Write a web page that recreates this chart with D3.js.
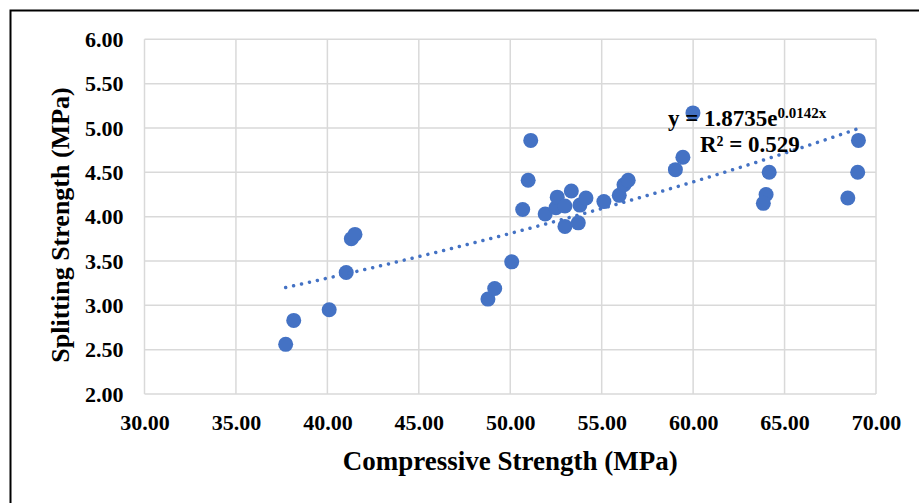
<!DOCTYPE html>
<html>
<head>
<meta charset="utf-8">
<script src="https://cdn.jsdelivr.net/npm/d3@7"></script>
<style>
  html, body { margin: 0; padding: 0; background: #fff; }
  text { font-family: "Liberation Serif", "Times New Roman", serif; font-weight: bold; }
</style>
</head>
<body>
<svg id="chart" width="919" height="503"></svg>
<script>
// compressive strength (MPa) of each specimen
var compressive = [37.72, 38.16, 40.10, 41.03, 41.31, 41.51, 48.78, 49.15, 50.08, 50.68,
    50.98, 51.12, 51.91, 52.50, 52.57, 52.99, 53.34, 52.99, 53.72, 53.81,
    54.14, 55.12, 55.96, 56.22, 56.45, 59.03, 59.44, 59.99, 64.16, 63.99,
    63.84, 69.04, 69.00, 68.46];
// splitting tensile strength (MPa), same order
var splitting = [2.56, 2.83, 2.95, 3.37, 3.75, 3.80, 3.07, 3.19, 3.49, 4.08,
    4.41, 4.86, 4.03, 4.10, 4.22, 4.12, 4.29, 3.89, 3.93, 4.13,
    4.21, 4.17, 4.24, 4.36, 4.41, 4.53, 4.67, 5.17, 4.50, 4.25,
    4.15, 4.86, 4.50, 4.21];

var xTicks = [30, 35, 40, 45, 50, 55, 60, 65, 70];
var yTicks = [2, 2.5, 3, 3.5, 4, 4.5, 5, 5.5, 6];

// exponential trendline y = a * e^(b x)
var trendA = 1.8735;
var trendB = 0.0142;
var trendR2 = "0.529";

var svg = d3.select("#chart");

svg.append("rect")
    .attr("width", 919)
    .attr("height", 503)
    .attr("fill", "#fff");

// frame round the chart (left and top edges only are in view)
svg.append("path")
    .attr("d", "M10.5,503 V10.5 H919")
    .attr("fill", "none")
    .attr("stroke", "#000")
    .attr("stroke-width", 2);

var x = d3.scaleLinear().domain([30, 70]).range([144.5, 876]);
var y = d3.scaleLinear().domain([2, 6]).range([394, 39.3]);

// grid
var grid = svg.append("g");
grid.selectAll("line.v").data(xTicks).enter().append("line")
    .attr("x1", function(d) { return x(d); })
    .attr("x2", function(d) { return x(d); })
    .attr("y1", y(2))
    .attr("y2", y(6))
    .attr("stroke", "#d9d9d9")
    .attr("stroke-width", 1.5);
grid.selectAll("line.h").data(yTicks).enter().append("line")
    .attr("x1", x(30))
    .attr("x2", x(70))
    .attr("y1", function(d) { return y(d); })
    .attr("y2", function(d) { return y(d); })
    .attr("stroke", "#d9d9d9")
    .attr("stroke-width", 1.5);

// axes: labels only, lines come from the grid
var xAxis = svg.append("g")
    .attr("transform", "translate(0," + y(2) + ")")
    .call(d3.axisBottom(x).tickValues(xTicks).tickFormat(d3.format(".2f")).tickSize(0).tickPadding(36));
var yAxis = svg.append("g")
    .attr("transform", "translate(" + x(30) + ",0)")
    .call(d3.axisLeft(y).tickValues(yTicks).tickFormat(d3.format(".2f")).tickSize(0).tickPadding(21));
[xAxis, yAxis].forEach(function(ax) {
    ax.select(".domain").remove();
    ax.selectAll("text")
        .attr("font-family", "'Liberation Serif', 'Times New Roman', serif")
        .attr("font-weight", "bold")
        .attr("font-size", "22px")
        .attr("fill", "#000");
});
xAxis.selectAll("text").attr("dy", "0");

// axis titles
svg.append("text")
    .attr("x", (x(30) + x(70)) / 2)
    .attr("y", 470)
    .attr("text-anchor", "middle")
    .attr("font-size", "27px")
    .attr("fill", "#000")
    .text("Compressive Strength (MPa)");

svg.append("text")
    .attr("transform", "translate(69,225) rotate(-90)")
    .attr("text-anchor", "middle")
    .attr("font-size", "26px")
    .attr("fill", "#000")
    .text("Splitting Strength (MPa)");

// points
var pts = compressive.map(function(c, i) { return [c, splitting[i]]; });
svg.append("g").selectAll("circle").data(pts).enter().append("circle")
    .attr("cx", function(d) { return x(d[0]); })
    .attr("cy", function(d) { return y(d[1]); })
    .attr("r", 7.5)
    .attr("fill", "#4472c4");

// trendline over the data range
var xmin = d3.min(compressive), xmax = d3.max(compressive);
var trend = d3.range(0, 61).map(function(i) {
    var cx = xmin + (xmax - xmin) * i / 60;
    return [cx, trendA * Math.exp(trendB * cx)];
});
svg.append("path")
    .datum(trend)
    .attr("d", d3.line().x(function(d) { return x(d[0]); }).y(function(d) { return y(d[1]); }))
    .attr("fill", "none")
    .attr("stroke", "#4472c4")
    .attr("stroke-width", 3.5)
    .attr("stroke-linecap", "round")
    .attr("stroke-dasharray", "0.01 8.1");

// equation label
var eq = svg.append("text")
    .attr("x", 668)
    .attr("y", 126)
    .attr("font-size", "23px")
    .attr("fill", "#000");
eq.append("tspan").text("y = " + trendA + "e");
eq.append("tspan")
    .attr("font-size", "15px")
    .attr("dy", "-8")
    .text(trendB + "x");

svg.append("text")
    .attr("x", 700)
    .attr("y", 152)
    .attr("font-size", "23px")
    .attr("fill", "#000")
    .text("R\u00b2 = " + trendR2);
</script>
</body>
</html>
